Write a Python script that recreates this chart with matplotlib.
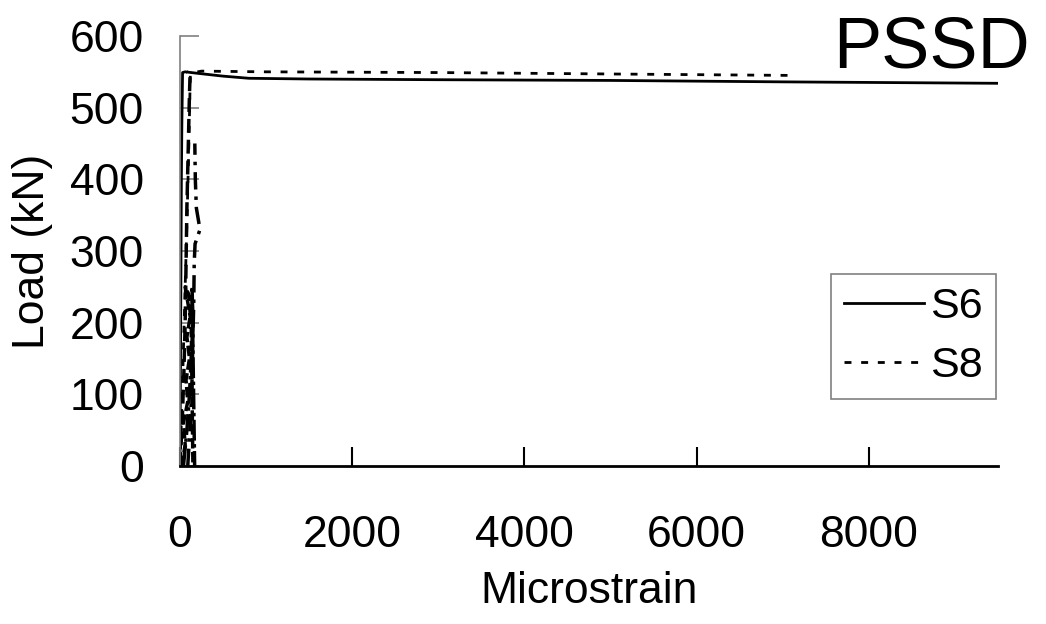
import matplotlib
matplotlib.use("Agg")
import matplotlib.pyplot as plt

plt.rcParams['font.family'] = ['Liberation Sans', 'DejaVu Sans']

# S6 (solid)
s6_strain = [0, 4, 8, 12, 16, 22, 30, 60, 200, 500, 800, 1500, 3000, 5000, 7000, 9500]
s6_load = [0, 100, 200, 300, 400, 480, 549, 550, 548, 544, 541, 540, 539, 538, 536, 534]

# S8 (dotted)
s8_strain = [0, 30, 60, 85, 105, 120, 250, 1000, 3000, 5000, 7100]
s8_load = [0, 120, 250, 360, 460, 548, 551, 550, 549, 547, 545]

# other gauges (not in legend)
ga_strain = [0, 25, 45, 60, 70, 80, 95, 110, 118, 80]
ga_load = [0, 60, 130, 200, 280, 360, 440, 520, 548, 550]

gb_strain = [90, 120, 140, 150, 160, 165, 175, 232, 190, 178, 172]
gb_load = [0, 60, 120, 180, 230, 283, 310, 330, 360, 400, 450]

gc_strain = [20, 60, 40, 90, 70, 110, 80, 120, 100, 60, 130, 150]
gc_load = [0, 30, 60, 90, 120, 150, 180, 210, 240, 250, 200, 0]

gd_strain = [40, 80, 110, 130, 150, 140, 170]
gd_load = [0, 50, 100, 150, 200, 250, 0]

xticks = [0, 2000, 4000, 6000, 8000]
yticks = [0, 100, 200, 300, 400, 500, 600]

fig = plt.figure(figsize=(10.46, 6.24), dpi=100)
ax = fig.add_axes([180/1046, 1-466/624, 818/1046, 430/624])

ax.plot(ga_strain, ga_load, color='black', lw=2.5, ls=(0, (4, 2)), label='_nolegend_')
ax.plot(gb_strain, gb_load, color='black', lw=2.5, ls=(0, (5, 2, 1, 2)), label='_nolegend_')
ax.plot(gc_strain, gc_load, color='black', lw=2.5, ls=(0, (3, 1)), label='_nolegend_')
ax.plot(gd_strain, gd_load, color='black', lw=2.5, ls=(0, (6, 1, 1, 1)), label='_nolegend_')
ax.plot(s6_strain, s6_load, color='black', lw=2, ls='-', label='S6')
ax.plot(s8_strain, s8_load, color='black', lw=2, ls=(0, (2.5, 3.5)), label='S8')

ax.set_xlim(0, 9500)
ax.set_ylim(0, 600)
ax.set_xticks(xticks)
ax.set_yticks(yticks)
ax.tick_params(axis='both', labelsize=32, direction='in', length=14)
ax.tick_params(axis='x', pad=35, width=1.5, color='black')
ax.tick_params(axis='y', pad=26, width=1.2, color='#808080')
for s in ['top', 'right']:
    ax.spines[s].set_visible(False)
ax.spines['left'].set_color('#808080')
ax.spines['left'].set_linewidth(1.2)
ax.spines['bottom'].set_color('black')
ax.spines['bottom'].set_linewidth(2)

ax.set_xlabel('Microstrain', fontsize=32, labelpad=11)
ax.set_ylabel('Load (kN)', fontsize=32, labelpad=12)

fig.text(0.985, 0.975, 'PSSD', fontsize=52, ha='right', va='top')

leg = ax.legend(loc='upper right', bbox_to_anchor=(996/1046, 1-274/624),
                bbox_transform=fig.transFigure, fontsize=31,
                frameon=True, fancybox=False, edgecolor='#606060',
                handlelength=1.85, handletextpad=0.15, borderpad=0.3,
                labelspacing=0.45, borderaxespad=0.0)
leg.get_frame().set_linewidth(1.2)

fig.savefig('out.png', dpi=100, facecolor='white')
